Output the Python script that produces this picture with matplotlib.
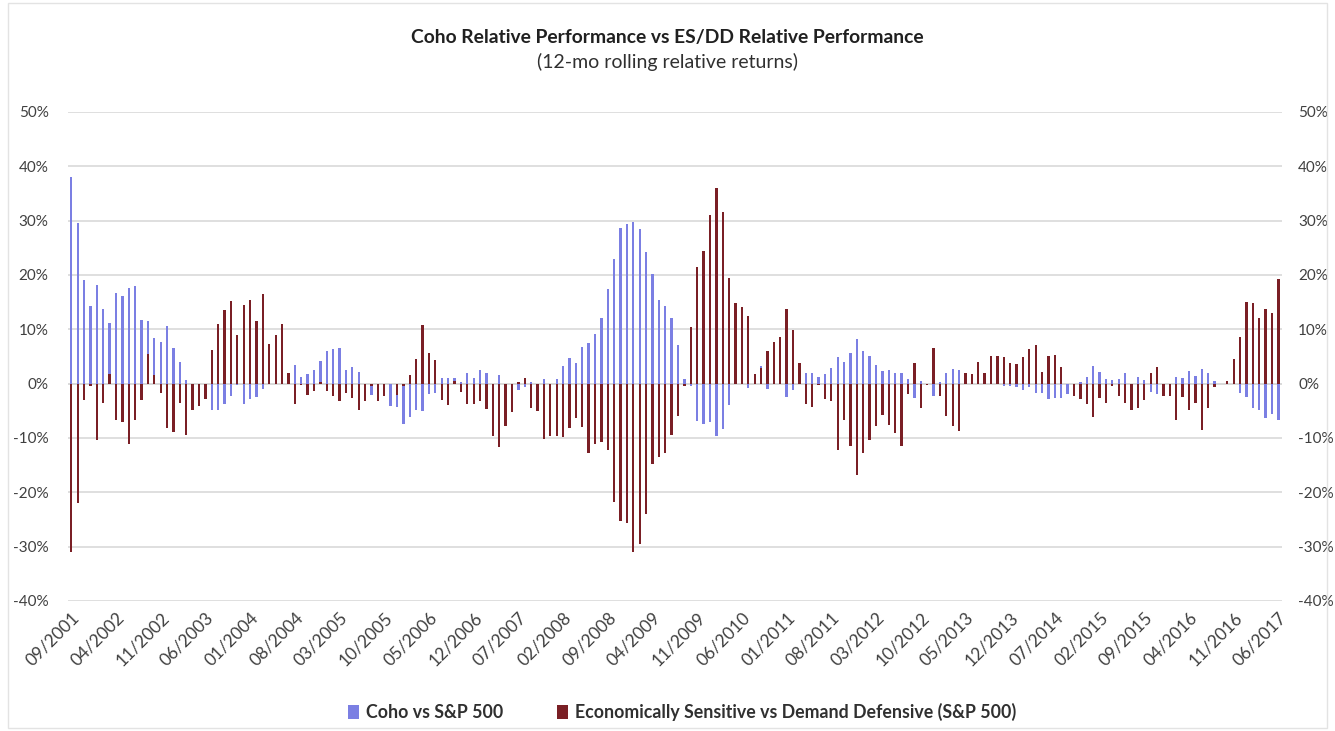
'''
Coho relative performance vs ES/DD relative performance
12-mo rolling relative returns, monthly bars 09/2001 - 06/2017
'''

import matplotlib
matplotlib.use('Agg')
import matplotlib.pyplot as plt
import numpy as np

# monthly tick labels (every 7th month)
tick_labels = ['09/2001', '04/2002', '11/2002', '06/2003', '01/2004', '08/2004', '03/2005',
               '10/2005', '05/2006', '12/2006', '07/2007', '02/2008', '09/2008', '04/2009',
               '11/2009', '06/2010', '01/2011', '08/2011', '03/2012', '10/2012', '05/2013',
               '12/2013', '07/2014', '02/2015', '09/2015', '04/2016', '11/2016', '06/2017']

# Coho vs S&P 500 (%), one value per month
coho = [38.0, 29.6, 19.0, 14.3, 18.2, 13.8, 11.2, 16.7, 16.2, 17.6,
        18.0, 11.7, 11.5, 8.3, 7.7, 10.5, 6.6, 4.0, 0.6, 0.0,
        0.0, 0.0, -4.9, -4.8, -3.8, -2.3, -0.3, -3.7, -2.9, -2.5,
        -1.0, 0.0, 0.0, 0.0, 0.0, 3.5, 1.2, 1.7, 2.5, 4.2,
        6.0, 6.3, 6.6, 2.5, 3.1, 2.1, 0.0, -2.1, 0.0, 0.0,
        -4.1, -4.3, -7.4, -6.2, -4.8, -5.1, -1.9, -1.7, 1.0, 1.0,
        1.0, 0.3, 1.9, 1.0, 2.5, 2.0, 0.0, 1.6, 0.0, 0.0,
        -1.2, -0.6, 0.3, 0.0, 0.8, 0.0, 0.9, 3.3, 4.7, 3.7,
        6.7, 7.5, 9.1, 12.0, 17.4, 23.0, 28.6, 29.4, 29.8, 28.4,
        24.2, 20.2, 15.3, 14.3, 12.0, 7.1, 0.9, -0.5, -6.9, -7.4,
        -7.1, -9.6, -8.3, -4.0, 0.0, 0.0, -0.9, 0.0, 3.2, -1.0,
        0.0, 0.0, -2.5, -1.1, 0.0, 1.9, 2.0, 1.2, 1.7, 2.8,
        4.9, 3.9, 5.7, 8.2, 6.0, 5.1, 3.5, 2.3, 2.5, 1.9,
        2.0, 0.8, -2.6, 0.5, 0.0, -2.3, 0.3, 2.0, 2.7, 2.5,
        0.0, 0.0, 0.0, 0.0, 0.0, 0.0, -0.4, -0.4, -0.6, -1.1,
        -0.6, -1.7, -1.7, -2.9, -2.6, -2.6, -1.9, 0.0, 0.3, 1.2,
        3.2, 2.2, 0.8, 0.6, 0.8, 1.9, 0.0, 1.2, 0.6, -1.6,
        -1.9, 0.0, 0.0, 1.2, 1.0, 2.3, 1.4, 2.7, 2.0, 0.5,
        0.0, 0.0, 0.0, -1.7, -2.5, -4.5, -4.9, -6.3, -5.6, -6.8]

# Economically Sensitive vs Demand Defensive (S&P 500) (%)
es_dd = [-31.0, -21.9, -3.0, -0.5, -10.4, -3.5, 1.7, -6.7, -7.0, -11.1,
         -6.8, -3.1, 5.5, 1.5, -1.7, -8.1, -9.0, -3.5, -9.4, -4.9,
         -4.1, -2.9, 6.2, 10.9, 13.5, 15.1, 9.0, 14.5, 15.4, 11.5,
         16.4, 7.2, 9.0, 11.0, 2.0, -3.8, -0.3, -2.2, -1.4, 0.3,
         -1.4, -2.3, -3.2, -1.7, -2.7, -4.9, -3.2, -0.5, -3.2, -2.3,
         0.0, -2.2, -0.5, 1.5, 4.6, 10.8, 5.7, 4.4, -3.1, -4.0,
         0.5, -1.6, -3.8, -3.7, -3.2, -4.7, -9.6, -11.7, -7.8, -5.2,
         0.2, 1.0, -4.5, -5.1, -10.2, -9.6, -9.6, -9.9, -8.1, -6.3,
         -8.0, -12.7, -11.1, -10.7, -12.2, -21.8, -25.3, -25.7, -31.0, -29.6,
         -24.0, -14.8, -13.6, -12.7, -9.4, -5.9, -0.5, 10.4, 21.4, 24.4,
         31.0, 35.9, 31.5, 19.4, 14.8, 14.0, 12.5, 1.7, 2.8, 6.0,
         7.7, 8.6, 13.8, 9.8, 3.7, -3.7, -4.3, -0.3, -2.8, -3.3,
         -12.2, -6.7, -11.5, -16.9, -12.7, -10.4, -7.9, -5.7, -7.6, -9.1,
         -11.5, -2.0, 3.7, -4.5, -0.2, 6.5, -2.3, -5.9, -7.9, -8.8,
         2.0, 1.7, 4.0, 2.0, 5.1, 5.1, 4.8, 3.8, 3.6, 4.9,
         6.3, 7.1, 2.2, 5.1, 5.2, 3.1, 0.0, -2.3, -2.8, -3.8,
         -6.2, -2.7, -3.5, -0.5, -2.3, -3.6, -4.8, -4.5, -3.1, 1.9,
         3.0, -2.3, -2.3, -6.7, -2.5, -4.9, -3.6, -8.6, -4.5, -0.7,
         -0.1, 0.5, 4.6, 8.5, 15.0, 14.8, 12.0, 13.7, 13.0, 19.3]

coho_color = '#7b7fe3'
es_color = '#7a1f25'
text_color = '#404040'
grid_color = '#d9d9d9'
font = 'Lato'

def main():
    x = np.arange(len(coho))
    fig = plt.figure(figsize=(13.35, 7.31), dpi=100)
    ax = fig.add_axes([0.051, 0.178, 0.909, 0.669])

    # both series on the same slot (Excel overlap 100%), maroon drawn on top
    ax.bar(x, coho, width=0.36, color=coho_color, label='Coho vs S&P 500', zorder=2)
    ax.bar(x, es_dd, width=0.36, color=es_color,
           label='Economically Sensitive vs Demand Defensive (S&P 500)', zorder=3)

    ax.set_xlim(-0.5, len(coho) - 0.5)
    ax.set_ylim(-40, 50)
    yt = np.arange(-40, 51, 10)
    ax.set_yticks(yt)
    ax.set_yticklabels(['{}%'.format(v) for v in yt], fontsize=11, color=text_color, family=font)
    ax.yaxis.grid(True, color=grid_color, linewidth=1.2, zorder=0)
    ax.set_axisbelow(True)
    ax.axhline(0, color=grid_color, linewidth=1.2, zorder=1)

    ax.set_xticks(x[::7])
    ax.set_xticklabels(tick_labels, rotation=45, ha='right', rotation_mode='anchor',
                       fontsize=12.5, color=text_color, family=font)
    ax.tick_params(axis='x', length=0, pad=6)
    ax.tick_params(axis='y', length=0, pad=14)
    for s in ax.spines.values():
        s.set_visible(False)

    # right hand axis, same scale
    ax2 = ax.twinx()
    ax2.set_ylim(-40, 50)
    ax2.set_yticks(yt)
    ax2.set_yticklabels(['{}%'.format(v) for v in yt], fontsize=11, color=text_color, family=font)
    ax2.tick_params(axis='y', length=0, pad=12)
    for s in ax2.spines.values():
        s.set_visible(False)

    # titles
    fig.text(0.5, 0.949, 'Coho Relative Performance vs ES/DD Relative Performance',
             ha='center', va='center', fontsize=13.9, fontweight='bold', color='#202020', family=font)
    fig.text(0.5, 0.915, '(12-mo rolling relative returns)',
             ha='center', va='center', fontsize=14, color='#303030', family=font)

    # legend at bottom
    leg = fig.legend(loc='center', bbox_to_anchor=(0.511, 0.026), ncol=2, frameon=False,
                     handlelength=0.6, handleheight=0.8, handletextpad=0.4, columnspacing=3.0,
                     prop={'family': font, 'size': 12.8, 'weight': 'bold'})
    for t in leg.get_texts():
        t.set_color('#303030')

    # faint chart-area border
    border = plt.Rectangle((0.006, 0.004), 0.988, 0.992, transform=fig.transFigure,
                           fill=False, edgecolor='#e3e3e3', linewidth=1)
    fig.patches.append(border)

    fig.savefig('out.png', dpi=100, facecolor='w')


if __name__ == '__main__':
    main()
